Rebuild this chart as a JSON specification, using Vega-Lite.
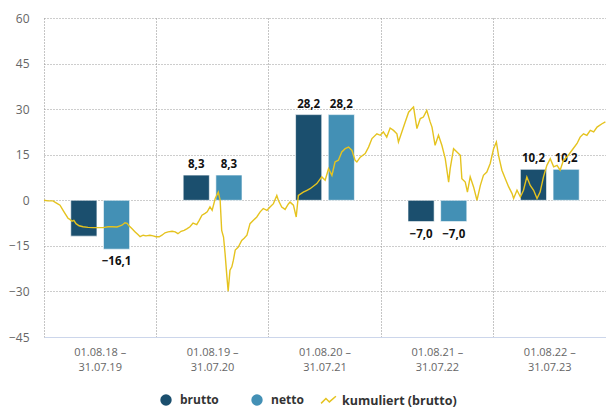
{
  "$schema": "https://vega.github.io/schema/vega-lite/v6.json",
  "width": 562,
  "height": 319,
  "autosize": "none",
  "padding": {"left": 44, "top": 18, "right": 0, "bottom": 70},
  "background": "#ffffff",
  "config": {
    "view": {"stroke": null},
    "font": "Open Sans",
    "locale": {"number": {"decimal": ",", "thousands": ".", "grouping": [3], "currency": ["", " €"]}}
  },
  "datasets": {
    "balken": [
      {"zeitraum": "01.08.18 – 31.07.19", "typ": "brutto", "wert": -11.8},
      {"zeitraum": "01.08.18 – 31.07.19", "typ": "netto", "wert": -16.1},
      {"zeitraum": "01.08.19 – 31.07.20", "typ": "brutto", "wert": 8.3},
      {"zeitraum": "01.08.19 – 31.07.20", "typ": "netto", "wert": 8.3},
      {"zeitraum": "01.08.20 – 31.07.21", "typ": "brutto", "wert": 28.2},
      {"zeitraum": "01.08.20 – 31.07.21", "typ": "netto", "wert": 28.2},
      {"zeitraum": "01.08.21 – 31.07.22", "typ": "brutto", "wert": -7.0},
      {"zeitraum": "01.08.21 – 31.07.22", "typ": "netto", "wert": -7.0},
      {"zeitraum": "01.08.22 – 31.07.23", "typ": "brutto", "wert": 10.2},
      {"zeitraum": "01.08.22 – 31.07.23", "typ": "netto", "wert": 10.2}
    ],
    "kurve": [
      {"tag": "2018-08-01", "wert": 0.0}, {"tag": "2018-08-14", "wert": -0.2}, {"tag": "2018-08-30", "wert": -0.2},
      {"tag": "2018-09-12", "wert": -1.0}, {"tag": "2018-09-22", "wert": -1.6}, {"tag": "2018-10-02", "wert": -3.3},
      {"tag": "2018-10-08", "wert": -4.3}, {"tag": "2018-10-18", "wert": -5.9}, {"tag": "2018-10-24", "wert": -6.3},
      {"tag": "2018-10-31", "wert": -6.9}, {"tag": "2018-11-06", "wert": -6.6}, {"tag": "2018-11-13", "wert": -7.7},
      {"tag": "2018-11-23", "wert": -8.4}, {"tag": "2018-12-06", "wert": -8.7}, {"tag": "2018-12-22", "wert": -8.9},
      {"tag": "2019-01-07", "wert": -9.0}, {"tag": "2019-01-23", "wert": -9.0}, {"tag": "2019-02-09", "wert": -9.0},
      {"tag": "2019-02-25", "wert": -8.7}, {"tag": "2019-03-10", "wert": -8.7}, {"tag": "2019-03-26", "wert": -8.8},
      {"tag": "2019-04-05", "wert": -8.4}, {"tag": "2019-04-11", "wert": -8.2}, {"tag": "2019-04-21", "wert": -7.4},
      {"tag": "2019-04-28", "wert": -7.6}, {"tag": "2019-05-04", "wert": -8.4}, {"tag": "2019-05-14", "wert": -9.4},
      {"tag": "2019-05-24", "wert": -10.4}, {"tag": "2019-06-02", "wert": -11.3}, {"tag": "2019-06-09", "wert": -12.0},
      {"tag": "2019-06-19", "wert": -11.5}, {"tag": "2019-06-28", "wert": -11.7}, {"tag": "2019-07-11", "wert": -11.5},
      {"tag": "2019-07-21", "wert": -11.7}, {"tag": "2019-07-31", "wert": -12.0}, {"tag": "2019-08-10", "wert": -12.0},
      {"tag": "2019-08-19", "wert": -11.5}, {"tag": "2019-08-29", "wert": -10.7}, {"tag": "2019-09-08", "wert": -10.4},
      {"tag": "2019-09-21", "wert": -10.2}, {"tag": "2019-10-01", "wert": -10.4}, {"tag": "2019-10-10", "wert": -11.0},
      {"tag": "2019-10-20", "wert": -10.2}, {"tag": "2019-10-30", "wert": -9.9}, {"tag": "2019-11-09", "wert": -9.3},
      {"tag": "2019-11-18", "wert": -8.7}, {"tag": "2019-11-28", "wert": -7.5}, {"tag": "2019-12-10", "wert": -8.0},
      {"tag": "2019-12-18", "wert": -6.6}, {"tag": "2019-12-27", "wert": -4.9}, {"tag": "2020-01-06", "wert": -4.3},
      {"tag": "2020-01-13", "wert": -3.8}, {"tag": "2020-01-22", "wert": -2.2}, {"tag": "2020-01-29", "wert": -3.3},
      {"tag": "2020-02-08", "wert": 0.6}, {"tag": "2020-02-18", "wert": 2.7}, {"tag": "2020-02-24", "wert": 0.0},
      {"tag": "2020-02-29", "wert": -9.9}, {"tag": "2020-03-06", "wert": -12.1}, {"tag": "2020-03-11", "wert": -17.5},
      {"tag": "2020-03-17", "wert": -25.2}, {"tag": "2020-03-21", "wert": -29.9}, {"tag": "2020-03-27", "wert": -23.0},
      {"tag": "2020-04-02", "wert": -21.9}, {"tag": "2020-04-07", "wert": -19.7}, {"tag": "2020-04-13", "wert": -16.4},
      {"tag": "2020-04-23", "wert": -15.4}, {"tag": "2020-05-04", "wert": -13.2}, {"tag": "2020-05-12", "wert": -12.5},
      {"tag": "2020-05-21", "wert": -11.5}, {"tag": "2020-05-31", "wert": -7.7}, {"tag": "2020-06-11", "wert": -6.6},
      {"tag": "2020-06-22", "wert": -5.5}, {"tag": "2020-07-03", "wert": -3.8}, {"tag": "2020-07-13", "wert": -2.7},
      {"tag": "2020-07-25", "wert": -3.3}, {"tag": "2020-08-04", "wert": -2.2}, {"tag": "2020-08-15", "wert": -1.1},
      {"tag": "2020-08-26", "wert": 1.6}, {"tag": "2020-08-31", "wert": 0.0}, {"tag": "2020-09-11", "wert": -2.2},
      {"tag": "2020-09-22", "wert": -3.0}, {"tag": "2020-10-02", "wert": -1.3}, {"tag": "2020-10-08", "wert": -0.6},
      {"tag": "2020-10-19", "wert": -1.6}, {"tag": "2020-10-28", "wert": -5.5}, {"tag": "2020-11-04", "wert": 1.6},
      {"tag": "2020-11-20", "wert": 2.7}, {"tag": "2020-12-02", "wert": 3.3}, {"tag": "2020-12-12", "wert": 3.8},
      {"tag": "2021-01-03", "wert": 5.5}, {"tag": "2021-01-19", "wert": 7.7}, {"tag": "2021-01-30", "wert": 6.6},
      {"tag": "2021-02-10", "wert": 10.4}, {"tag": "2021-02-21", "wert": 8.2}, {"tag": "2021-03-03", "wert": 12.6},
      {"tag": "2021-03-14", "wert": 13.2}, {"tag": "2021-03-25", "wert": 15.9}, {"tag": "2021-04-05", "wert": 17.0},
      {"tag": "2021-04-16", "wert": 17.5}, {"tag": "2021-04-27", "wert": 16.4}, {"tag": "2021-05-07", "wert": 13.2},
      {"tag": "2021-05-13", "wert": 12.6}, {"tag": "2021-05-24", "wert": 14.2}, {"tag": "2021-06-09", "wert": 15.4},
      {"tag": "2021-06-20", "wert": 17.5}, {"tag": "2021-07-01", "wert": 20.3}, {"tag": "2021-07-17", "wert": 21.9},
      {"tag": "2021-07-28", "wert": 21.4}, {"tag": "2021-08-07", "wert": 22.5}, {"tag": "2021-08-18", "wert": 20.8},
      {"tag": "2021-08-29", "wert": 23.8}, {"tag": "2021-09-09", "wert": 23.0}, {"tag": "2021-09-20", "wert": 21.9},
      {"tag": "2021-09-25", "wert": 19.2}, {"tag": "2021-10-06", "wert": 22.5}, {"tag": "2021-10-17", "wert": 25.8},
      {"tag": "2021-10-28", "wert": 29.0}, {"tag": "2021-11-08", "wert": 30.2}, {"tag": "2021-11-13", "wert": 30.7},
      {"tag": "2021-11-24", "wert": 23.6}, {"tag": "2021-12-05", "wert": 26.9}, {"tag": "2021-12-15", "wert": 27.4},
      {"tag": "2021-12-26", "wert": 29.6}, {"tag": "2022-01-06", "wert": 25.8}, {"tag": "2022-01-12", "wert": 24.1},
      {"tag": "2022-01-22", "wert": 18.1}, {"tag": "2022-02-02", "wert": 21.4}, {"tag": "2022-02-13", "wert": 18.1},
      {"tag": "2022-02-24", "wert": 13.7}, {"tag": "2022-03-07", "wert": 6.0}, {"tag": "2022-03-12", "wert": 10.4},
      {"tag": "2022-03-23", "wert": 17.0}, {"tag": "2022-04-03", "wert": 15.9}, {"tag": "2022-04-14", "wert": 14.8},
      {"tag": "2022-04-19", "wert": 7.1}, {"tag": "2022-04-30", "wert": 6.0}, {"tag": "2022-05-07", "wert": 2.7},
      {"tag": "2022-05-16", "wert": 7.7}, {"tag": "2022-05-27", "wert": 4.4}, {"tag": "2022-06-07", "wert": 0.0},
      {"tag": "2022-06-18", "wert": 4.9}, {"tag": "2022-06-28", "wert": 8.2}, {"tag": "2022-07-09", "wert": 9.3},
      {"tag": "2022-07-20", "wert": 12.1}, {"tag": "2022-07-31", "wert": 17.0}, {"tag": "2022-08-09", "wert": 19.2},
      {"tag": "2022-08-16", "wert": 14.8}, {"tag": "2022-08-27", "wert": 9.9}, {"tag": "2022-09-07", "wert": 7.1},
      {"tag": "2022-09-18", "wert": 4.4}, {"tag": "2022-09-29", "wert": 2.2}, {"tag": "2022-10-04", "wert": 0.6},
      {"tag": "2022-10-15", "wert": 3.3}, {"tag": "2022-10-26", "wert": 1.1}, {"tag": "2022-11-05", "wert": 3.3},
      {"tag": "2022-11-16", "wert": 7.7}, {"tag": "2022-11-27", "wert": 4.9}, {"tag": "2022-12-08", "wert": 3.3},
      {"tag": "2022-12-19", "wert": 0.6}, {"tag": "2022-12-29", "wert": 2.7}, {"tag": "2023-01-09", "wert": 7.7},
      {"tag": "2023-01-20", "wert": 11.5}, {"tag": "2023-01-31", "wert": 13.7}, {"tag": "2023-02-11", "wert": 11.0},
      {"tag": "2023-02-22", "wert": 11.5}, {"tag": "2023-03-04", "wert": 9.9}, {"tag": "2023-03-15", "wert": 13.2},
      {"tag": "2023-03-26", "wert": 14.2}, {"tag": "2023-04-11", "wert": 16.4}, {"tag": "2023-04-28", "wert": 18.7},
      {"tag": "2023-05-08", "wert": 20.8}, {"tag": "2023-05-19", "wert": 21.9}, {"tag": "2023-05-30", "wert": 21.4},
      {"tag": "2023-06-10", "wert": 23.0}, {"tag": "2023-06-21", "wert": 22.5}, {"tag": "2023-07-02", "wert": 24.1},
      {"tag": "2023-07-18", "wert": 25.2}, {"tag": "2023-07-29", "wert": 25.8}
    ]
  },
  "layer": [
    {
      "data": {"name": "balken"},
      "encoding": {
        "x": {
          "field": "zeitraum", "type": "nominal", "sort": null,
          "scale": {"paddingInner": 0, "paddingOuter": 0},
          "axis": {
            "title": null, "grid": true, "bandPosition": 0, "ticks": false,
            "gridColor": "#8a8a8a", "gridDash": [1, 2], "gridWidth": 1,
            "domainColor": "#ccd6eb", "domainWidth": 1,
            "labelAngle": 0, "labelFont": "Open Sans", "labelFontSize": 11, "labelColor": "#666666",
            "labelPadding": 9, "labelLineHeight": 15,
            "labelExpr": "[slice(datum.label, 0, 10), slice(datum.label, 11)]"
          }
        },
        "xOffset": {"field": "typ", "type": "nominal", "sort": ["brutto", "netto"], "scale": {"paddingInner": 0.2, "paddingOuter": 0.82}},
        "y": {
          "field": "wert", "type": "quantitative",
          "scale": {"domain": [-45, 60], "nice": false, "zero": false},
          "axis": {
            "title": null, "values": [-45, -30, -15, 0, 15, 30, 45, 60], "format": "d",
            "domain": false, "ticks": false, "grid": true,
            "gridColor": {"condition": {"test": "datum.value === -45", "value": "transparent"}, "value": "#9a9a9a"},
            "gridDash": [1, 2], "gridWidth": 1,
            "labelFont": "Open Sans", "labelFontSize": 12, "labelColor": "#666666", "labelPadding": 15
          }
        }
      },
      "layer": [
        {
          "mark": {"type": "bar", "stroke": "#ffffff", "strokeWidth": 1, "strokeOpacity": 0.6},
          "encoding": {
            "color": {
              "field": "typ", "type": "nominal",
              "scale": {"domain": ["brutto", "netto"], "range": ["#1b4f6e", "#4390b5"]},
              "legend": {
                "title": null, "orient": "none", "legendX": 116, "legendY": 376, "direction": "horizontal",
                "padding": 0, "columnPadding": 32, "labelOffset": 8, "symbolSize": 130, "symbolType": "circle",
                "symbolStrokeWidth": 0,
                "labelFont": "Open Sans", "labelFontSize": 12, "labelFontWeight": "bold", "labelColor": "#333333"
              }
            }
          }
        },
        {
          "transform": [{"filter": "datum.wert > 0"}],
          "mark": {"type": "text", "baseline": "middle", "dy": -10, "font": "Open Sans", "fontSize": 11.5, "fontWeight": "bold", "color": "#111111"},
          "encoding": {"text": {"field": "wert", "type": "quantitative", "format": ".1f"}}
        },
        {
          "transform": [{"filter": "datum.wert < 0 && !(datum.zeitraum === '01.08.18 – 31.07.19' && datum.typ === 'brutto')"}],
          "mark": {"type": "text", "baseline": "middle", "dy": 13, "font": "Open Sans", "fontSize": 11.5, "fontWeight": "bold", "color": "#111111"},
          "encoding": {"text": {"field": "wert", "type": "quantitative", "format": ".1f"}}
        }
      ]
    },
    {
      "data": {"name": "kurve"},
      "mark": {"type": "line", "strokeWidth": 1.4},
      "encoding": {
        "x": {
          "field": "tag", "type": "temporal", "axis": null,
          "scale": {"domain": [{"year": 2018, "month": 8, "date": 1, "utc": true}, {"year": 2023, "month": 7, "date": 31, "utc": true}], "nice": false}
        },
        "y": {"field": "wert", "type": "quantitative"},
        "stroke": {
          "datum": "kumuliert (brutto)", "type": "nominal",
          "scale": {"domain": ["kumuliert (brutto)"], "range": ["#e5c31f"]},
          "legend": {
            "title": null, "orient": "none", "legendX": 278, "legendY": 376, "direction": "horizontal",
            "padding": 0, "labelOffset": 7, "symbolSize": 130,
            "symbolType": "M-1.3,0.5L-0.45,-0.35L0.15,0.25L1.3,-0.75",
            "symbolStrokeWidth": 1.5, "symbolFillColor": "transparent",
            "labelFont": "Open Sans", "labelFontSize": 12.5, "labelFontWeight": "bold", "labelColor": "#333333"
          }
        }
      }
    }
  ],
  "resolve": {"scale": {"x": "independent"}}
}
